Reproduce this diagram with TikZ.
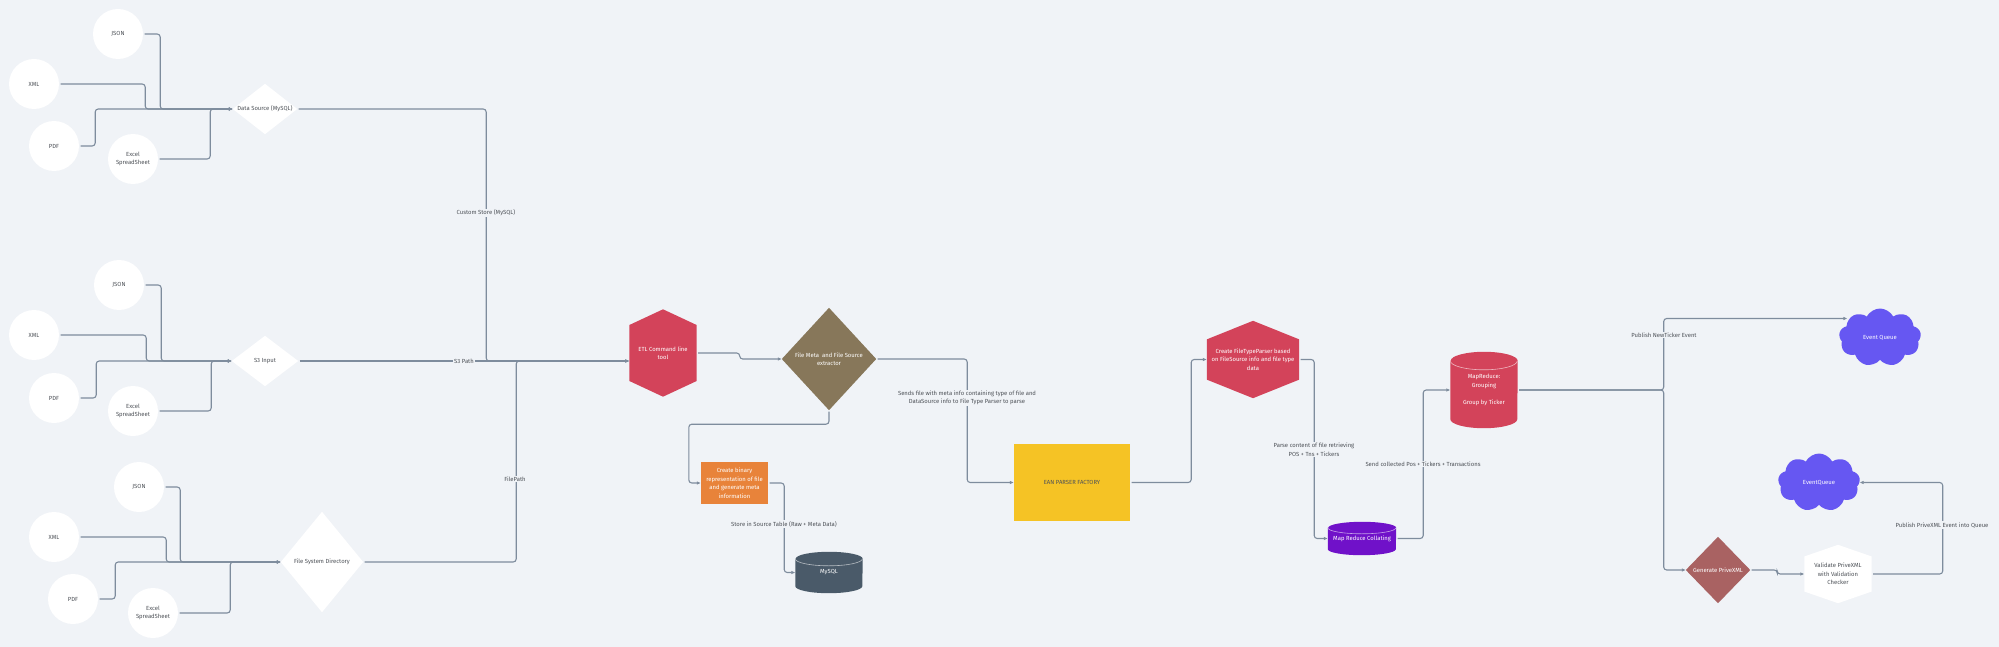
\documentclass[tikz,border=0pt]{standalone}
\usepackage{fontspec}
\setmainfont{Fira Sans}
\usetikzlibrary{calc,shapes.symbols,backgrounds,arrows.meta}
\definecolor{bg}{HTML}{F0F3F7}
\definecolor{linec}{HTML}{7E8C9D}
\definecolor{txt}{HTML}{4E5258}
\definecolor{redc}{HTML}{D3435A}
\definecolor{brownc}{HTML}{87775A}
\definecolor{orangec}{HTML}{E8833A}
\definecolor{mysqlc}{HTML}{4A5A69}
\definecolor{yellowc}{HTML}{F5C325}
\definecolor{purplec}{HTML}{7011C9}
\definecolor{cloudc}{HTML}{6657F2}
\definecolor{genc}{HTML}{A96262}
\newcommand\fsz{\fontsize{5.9}{8.5}\selectfont}
\newcommand\hexpath[3]{\fill[#2] (#1.north) -- ($(#1.north west)!#3!(#1.south west)$) -- ($(#1.north west)!1-#3!(#1.south west)$) -- (#1.south) -- ($(#1.north east)!1-#3!(#1.south east)$) -- ($(#1.north east)!#3!(#1.south east)$) -- cycle;}
\newcommand\diapath[2]{\fill[#2] (#1.north) -- (#1.east) -- (#1.south) -- (#1.west) -- cycle;}
\newcommand\cylpath[4]{%
  \fill[#2] ([yshift=-#4]#1.north west) -- ([yshift=#4]#1.south west) arc[start angle=180,end angle=360,x radius=#3,y radius=#4] -- ([yshift=-#4]#1.north east) arc[start angle=0,end angle=180,x radius=#3,y radius=#4] -- cycle;
  \draw[white!60!#2, line width=0.6pt] ([yshift=-#4]#1.north west) arc[start angle=180,end angle=360,x radius=#3,y radius=#4];}
\tikzset{
  conn/.style={draw=linec, line width=1.1pt, rounded corners=3pt, shorten <=1.5pt, -{Latex[length=4pt,width=3.6pt]}},
  src/.style={circle, fill=white, minimum size=50pt, inner sep=0pt, text=txt, font=\fsz, align=center},
  shp/.style={rectangle, inner sep=0pt, align=center, font=\fsz},
  lbl/.style={fill=bg, inner sep=1pt, text=txt, font=\fsz, align=center},
  cloudn/.style={cloud, cloud puffs=9, cloud puff arc=125, aspect=1.45, fill=cloudc, text=white, font=\fsz, inner sep=0pt, minimum width=82pt, minimum height=58pt}
}
\begin{document}
\begin{tikzpicture}[x=1pt,y=-1pt]
\path[use as bounding box] (0,0) rectangle (1999,647);
% group 1
\node[src] (j1) at (118,34) {JSON};
\node[src] (x1) at (34,84) {XML};
\node[src] (p1) at (54,146) {PDF};
\node[src] (e1) at (133,159) {Excel\\SpreadSheet};
\node[shp, text=txt, minimum width=64pt, minimum height=50pt] (ds) at (265,109) {Data Source (MySQL)};
% group 2
\node[src] (j2) at (119,285) {JSON};
\node[src] (x2) at (34,335) {XML};
\node[src] (p2) at (54,398) {PDF};
\node[src] (e2) at (133,411) {Excel\\SpreadSheet};
\node[shp, text=txt, minimum width=66pt, minimum height=50pt] (s3) at (265,361) {S3 Input};
% group 3
\node[src] (j3) at (139,487) {JSON};
\node[src] (x3) at (54,537) {XML};
\node[src] (p3) at (73,599) {PDF};
\node[src] (e3) at (153,613) {Excel\\SpreadSheet};
\node[shp, text=txt, minimum width=82pt, minimum height=100pt] (fsd) at (322,562) {File System Directory};
% main flow
\node[shp, text=white, minimum width=67pt, minimum height=87pt] (etl) at (663,353) {ETL Command line\\tool};
\node[shp, text=white, minimum width=94pt, minimum height=102pt] (fm) at (829,359) {File Meta \ and File Source\\extractor};
\node[shp, text=white, fill=orangec, minimum width=67pt, minimum height=42pt] (bin) at (734.5,483) {Create binary\\representation of file\\and generate meta\\information};
\node[shp, text=white, minimum width=67pt, minimum height=41pt] (mysql) at (829,572.5) {MySQL};
\node[shp, text=txt, fill=yellowc, minimum width=116pt, minimum height=77pt] (ean) at (1072,482.5) {EAN PARSER FACTORY};
\node[shp, text=white, minimum width=92pt, minimum height=77pt] (ftp) at (1253,359.5) {Create FileTypeParser based\\on FileSource info and file type\\data};
\node[shp, text=white, minimum width=68pt, minimum height=33pt] (mrc) at (1362,538.5) {Map Reduce Collating};
\node[shp, text=white, minimum width=67pt, minimum height=76pt] (mrg) at (1484,390) {MapReduce:\\Grouping\\[8.5pt]Group by Ticker};
\node[cloudn] (eq1) at (1880,337.5) {Event Queue};
\node[cloudn] (eq2) at (1819,482.5) {EventQueue};
\node[shp, text=white, minimum width=64pt, minimum height=66pt] (gen) at (1718,570) {Generate PriveXML};
\node[shp, text=txt, minimum width=67pt, minimum height=58pt] (val) at (1838,574) {Validate PriveXML\\with Validation\\Checker};
\coordinate (etlin) at (s3.east -| etl.west);
\coordinate (eqin) at ($(eq1.west)+(8,-19)$);
% shapes behind text
\begin{scope}[on background layer]
  \fill[bg] (0,0) rectangle (1999,647);
  \diapath{ds}{white}
  \diapath{s3}{white}
  \diapath{fsd}{white}
  \diapath{fm}{brownc}
  \diapath{gen}{genc}
  \hexpath{etl}{redc}{0.18}
  \hexpath{ftp}{redc}{0.24}
  \hexpath{val}{white}{0.2}
  \cylpath{mysql}{mysqlc}{33.5pt}{7pt}
  \cylpath{mrc}{purplec}{34pt}{6pt}
  \cylpath{mrg}{redc}{33.5pt}{9pt}
\end{scope}
% connectors group 1
\draw[conn] (j1.east) -- ++(17,0) |- (ds.west);
\draw[conn] (x1.east) -- ++(86,0) |- (ds.west);
\draw[conn] (p1.east) -- ++(16,0) |- (ds.west);
\draw[conn] (e1.east) -- ++(52,0) |- (ds.west);
% group 2
\draw[conn] (j2.east) -- ++(17,0) |- (s3.west);
\draw[conn] (x2.east) -- ++(87,0) |- (s3.west);
\draw[conn] (p2.east) -- ++(17,0) |- (s3.west);
\draw[conn] (e2.east) -- ++(53,0) |- (s3.west);
% group 3
\draw[conn] (j3.east) -- ++(16,0) |- (fsd.west);
\draw[conn] (x3.east) -- ++(87,0) |- (fsd.west);
\draw[conn] (p3.east) -- ++(17,0) |- (fsd.west);
\draw[conn] (e3.east) -- ++(52,0) |- (fsd.west);
% into ETL
\draw[conn] (ds.east) -- ++(189,0) |- (etlin);
\draw[conn] (s3.east) -- (etlin);
\draw[conn] (fsd.east) -- ++(153,0) |- (etlin);
% main flow
\draw[conn] (etl.east) -- ++(43,0) |- (fm.west);
\draw[conn] (fm.south) -- ++(0,14) -| ($(bin.west)+(-12,0)$) -- (bin.west);
\draw[conn] (bin.east) -- ++(16,0) |- (mysql.west);
\draw[conn] (fm.east) -- ++(91,0) |- (ean.west);
\draw[conn] (ean.east) -- ++(61,0) |- (ftp.west);
\draw[conn] (ftp.east) -- ++(15,0) |- (mrc.west);
\draw[conn] (mrc.east) -- ++(27,0) |- (mrg.west);
\draw[conn] (mrg.east) -- ++(146,0) |- (eqin);
\draw[conn] (mrg.east) -- ++(146,0) |- (gen.west);
\draw[conn] (gen.east) -- ++(27,0) |- (val.west);
\draw[conn] (val.east) -- ++(71,0) |- (eq2.east);
% labels
\node[lbl] (lcs) at (486,213) {Custom Store (MySQL)};
\node[lbl] (ls3) at (464,361) {S3 Path};
\node[lbl] (lfp) at (515,479) {FilePath};
\node[lbl] (lsend) at (967,398) {Sends file with meta info containing type of file and\\DataSource info to File Type Parser to parse};
\node[lbl] (lstore) at (784,524) {Store in Source Table (Raw + Meta Data)};
\node[lbl] (lparse) at (1314,449.5) {Parse content of file retrieving\\POS + Tns + Tickers};
\node[lbl] (lcoll) at (1423,464) {Send collected Pos + Tickers + Transactions};
\node[lbl] (lpub) at (1664,335) {Publish NewTicker Event};
\node[lbl] (lpx) at (1942,525) {Publish PriveXML Event into Queue};
\end{tikzpicture}
\end{document}
